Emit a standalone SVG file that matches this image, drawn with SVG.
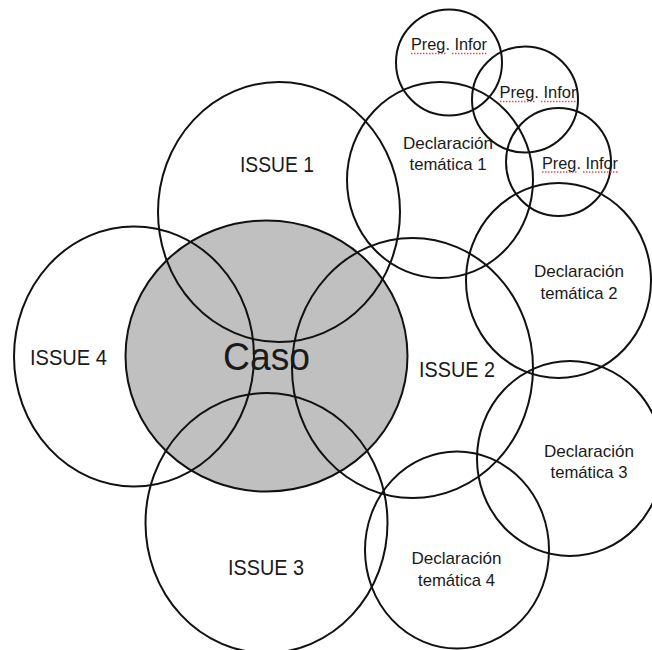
<svg xmlns="http://www.w3.org/2000/svg" width="652" height="650" viewBox="0 0 652 650">
<defs>
<style>
.c{fill:none;stroke:#111;stroke-width:2}
.core{fill:#c0c0c0;stroke:#111;stroke-width:2}
text{font-family:"Liberation Sans",Arial,sans-serif;fill:#1a1a1a;text-anchor:middle}
.big{font-size:22px}
.caso{font-size:38px}
.sm{font-size:17px}
.pi{font-size:16px}
.sp{stroke:#e05050;stroke-width:1.3;stroke-dasharray:1.5 1.5;fill:none}
</style>
</defs>
<rect width="652" height="650" fill="#fff"/>
<g id="caso"><ellipse class="core" cx="266.5" cy="356" rx="141" ry="135.5"/></g>
<g id="issue1"><ellipse class="c" cx="279" cy="212" rx="121" ry="130"/><text class="big" x="277" y="172" textLength="74" lengthAdjust="spacingAndGlyphs">ISSUE 1</text></g>
<g id="issue4"><ellipse class="c" cx="134" cy="356.5" rx="120" ry="130"/><text class="big" x="68.5" y="365" textLength="77" lengthAdjust="spacingAndGlyphs">ISSUE 4</text></g>
<g id="issue2"><ellipse class="c" cx="412.5" cy="368" rx="120.5" ry="130"/><text class="big" x="457" y="377" textLength="76" lengthAdjust="spacingAndGlyphs">ISSUE 2</text></g>
<g id="issue3"><ellipse class="c" cx="266.5" cy="523" rx="121" ry="130"/><text class="big" x="266" y="575" textLength="76" lengthAdjust="spacingAndGlyphs">ISSUE 3</text></g>
<g id="decl1"><ellipse class="c" cx="440" cy="180" rx="93" ry="98"/><text class="sm" x="448" y="149" textLength="90" lengthAdjust="spacingAndGlyphs">Declaración</text><text class="sm" x="448" y="170" textLength="77" lengthAdjust="spacingAndGlyphs">temática 1</text></g>
<g id="decl2"><ellipse class="c" cx="558.5" cy="280.5" rx="92.5" ry="97.5"/><text class="sm" x="579" y="276.5" textLength="90" lengthAdjust="spacingAndGlyphs">Declaración</text><text class="sm" x="579" y="299" textLength="77" lengthAdjust="spacingAndGlyphs">temática 2</text></g>
<g id="decl3"><ellipse class="c" cx="570" cy="458.5" rx="93" ry="97.5"/><text class="sm" x="589" y="456.5" textLength="90" lengthAdjust="spacingAndGlyphs">Declaración</text><text class="sm" x="589" y="477.5" textLength="77" lengthAdjust="spacingAndGlyphs">temática 3</text></g>
<g id="decl4"><ellipse class="c" cx="457" cy="550" rx="92" ry="98.5"/><text class="sm" x="456.5" y="564" textLength="90" lengthAdjust="spacingAndGlyphs">Declaración</text><text class="sm" x="456.5" y="585.5" textLength="77" lengthAdjust="spacingAndGlyphs">temática 4</text></g>
<g id="preg1"><circle class="c" cx="449" cy="62.5" r="53"/><text class="pi" x="449" y="50" textLength="76" lengthAdjust="spacingAndGlyphs">Preg. Infor</text><path class="sp" d="M411 53.5H447M452 53.5H487"/></g>
<g id="preg2"><circle class="c" cx="525" cy="99.5" r="53"/><text class="pi" x="538" y="98" textLength="77" lengthAdjust="spacingAndGlyphs">Preg. Infor</text><path class="sp" d="M500 101.5H536M541 101.5H577"/></g>
<g id="preg3"><ellipse class="c" cx="558.5" cy="162" rx="52.5" ry="54"/><text class="pi" x="580" y="168.5" textLength="76" lengthAdjust="spacingAndGlyphs">Preg. Infor</text><path class="sp" d="M542 172H578M583 172H618"/></g>
<g id="caso-label"><text class="caso" x="266.5" y="370" textLength="87" lengthAdjust="spacingAndGlyphs">Caso</text></g>
<g id="connectors"></g>
</svg>
